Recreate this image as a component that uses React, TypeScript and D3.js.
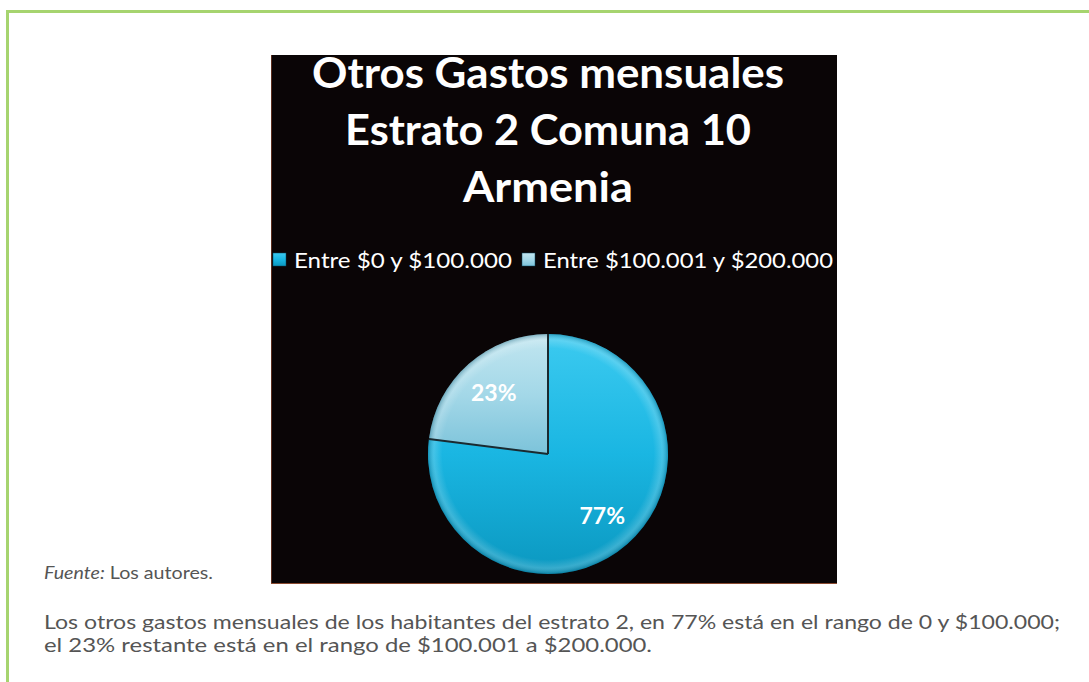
import React, { useEffect, useRef } from 'react';
import * as d3 from 'd3';

const titleLines = ['Otros Gastos mensuales', 'Estrato 2 Comuna 10', 'Armenia'];
const categories = ['Entre $0 y $100.000', 'Entre $100.001 y $200.000'];
const values = [77, 23];
const sourceLabel = ['Fuente:', ' Los autores.'];
const bodyLines = [
  'Los otros gastos mensuales de los habitantes del estrato 2, en 77% está en el rango de 0 y $100.000;',
  'el 23% restante está en el rango de $100.001 a $200.000.',
];

const W = 1089;
const H = 682;

const App = () => {
  const ref = useRef<SVGSVGElement>(null);

  useEffect(() => {
    const svg = d3.select(ref.current);
    svg.selectAll('*').remove();

    const defs = svg.append('defs');
    const grads = [
      { id: 'g0', stops: ['#3ccaf0', '#1ab6e2', '#0b98c0'] },
      { id: 'g1', stops: ['#c2e6f0', '#a4d8e8', '#7cc3da'] },
    ];
    grads.forEach(g => {
      const lg = defs.append('linearGradient').attr('id', g.id).attr('x1', 0).attr('y1', 0).attr('x2', 0).attr('y2', 1);
      g.stops.forEach((c, i) => lg.append('stop').attr('offset', i / (g.stops.length - 1)).attr('stop-color', c));
    });
    const rim = defs.append('radialGradient').attr('id', 'rim').attr('cx', 0.5).attr('cy', 0.5).attr('r', 0.5);
    rim.append('stop').attr('offset', 0.88).attr('stop-color', '#fff').attr('stop-opacity', 0);
    rim.append('stop').attr('offset', 0.95).attr('stop-color', '#fff').attr('stop-opacity', 0.18);
    rim.append('stop').attr('offset', 1).attr('stop-color', '#04506a').attr('stop-opacity', 0.35);

    // page frame
    svg.append('rect').attr('width', W).attr('height', H).attr('fill', '#fff');
    svg.append('line').attr('x1', 7).attr('x2', W).attr('y1', 11.5).attr('y2', 11.5).attr('stroke', '#a6d46f').attr('stroke-width', 3);
    svg.append('line').attr('x1', 7.5).attr('x2', 7.5).attr('y1', 10).attr('y2', H).attr('stroke', '#a6d46f').attr('stroke-width', 3);

    // chart panel
    const px = 271, py = 55, pw = 566, ph = 529;
    svg.append('rect').attr('x', px).attr('y', py).attr('width', pw).attr('height', ph).attr('fill', '#0a0506');
    svg.append('line').attr('x1', px + 0.5).attr('x2', px + 0.5).attr('y1', py).attr('y2', py + ph).attr('stroke', '#5c2e1e');
    svg.append('line').attr('x1', px).attr('x2', px + pw).attr('y1', py + ph - 0.5).attr('y2', py + ph - 0.5).attr('stroke', '#8a4a30');

    const cx = 548;
    const titleY = [88, 145, 202];
    const titleW = [472, 406, 170];
    svg.selectAll('text.title').data(titleLines).enter().append('text')
      .attr('class', 'title')
      .attr('x', cx).attr('y', (d, i) => titleY[i])
      .attr('text-anchor', 'middle')
      .attr('textLength', (d, i) => titleW[i]).attr('lengthAdjust', 'spacingAndGlyphs')
      .style('font-family', 'Lato, sans-serif').style('font-weight', 700).style('font-size', '42px')
      .style('fill', '#fff')
      .text(d => d);

    // legend
    const legX = [273, 522];
    const legW = [218, 290];
    const lg = svg.append('g');
    categories.forEach((c, i) => {
      lg.append('rect').attr('x', legX[i]).attr('y', 253).attr('width', 13).attr('height', 13)
        .attr('fill', `url(#g${i})`).attr('stroke', '#0a4a60').attr('stroke-width', 0.5);
      lg.append('text').attr('x', legX[i] + 21).attr('y', 268)
        .attr('textLength', legW[i]).attr('lengthAdjust', 'spacingAndGlyphs')
        .style('font-family', 'Lato, sans-serif').style('font-size', '22px').style('fill', '#fff')
        .text(c);
    });

    // pie
    const cy = 454, r = 120;
    const pie = d3.pie<number>().sort(null).value(d => d);
    const arcs = pie(values);
    const arc = d3.arc<d3.PieArcDatum<number>>().innerRadius(0).outerRadius(r);
    const labelArc = d3.arc<d3.PieArcDatum<number>>().innerRadius(82).outerRadius(82);
    const g = svg.append('g').attr('transform', `translate(${cx},${cy})`);
    g.selectAll('path.slice').data(arcs).enter().append('path')
      .attr('class', 'slice')
      .attr('d', arc)
      .attr('fill', (d, i) => `url(#g${i})`);
    g.append('circle').attr('r', r).attr('fill', 'url(#rim)');
    // dividers
    g.selectAll('line.div').data(arcs).enter().append('line')
      .attr('class', 'div')
      .attr('x1', 0).attr('y1', 0)
      .attr('x2', d => r * Math.sin(d.startAngle)).attr('y2', d => -r * Math.cos(d.startAngle))
      .attr('stroke', '#1a2a30').attr('stroke-width', 2);
    g.selectAll('text.lbl').data(arcs).enter().append('text')
      .attr('class', 'lbl')
      .attr('transform', d => `translate(${labelArc.centroid(d)})`)
      .attr('text-anchor', 'middle').attr('dy', '0.35em')
      .style('font-family', 'Lato, sans-serif').style('font-weight', 700).style('font-size', '23px')
      .style('fill', '#fff')
      .text(d => `${d.data}%`);

    // source + body text
    const src = svg.append('text').attr('x', 44).attr('y', 579)
      .attr('textLength', 169).attr('lengthAdjust', 'spacingAndGlyphs')
      .style('font-family', 'Lato, sans-serif').style('font-size', '17px').style('fill', '#555');
    src.append('tspan').style('font-style', 'italic').text(sourceLabel[0]);
    src.append('tspan').text(sourceLabel[1]);

    const bodyW = [1016, 608];
    svg.selectAll('text.body').data(bodyLines).enter().append('text')
      .attr('class', 'body')
      .attr('x', 44).attr('y', (d, i) => 629 + i * 23)
      .attr('textLength', (d, i) => bodyW[i]).attr('lengthAdjust', 'spacingAndGlyphs')
      .style('font-family', 'Lato, sans-serif').style('font-size', '20px').style('fill', '#555')
      .text(d => d);
  }, []);

  return <svg ref={ref} width={W} height={H} style={{ position: 'absolute', left: 0, top: 0, display: 'block' }} />;
};

export default App;
